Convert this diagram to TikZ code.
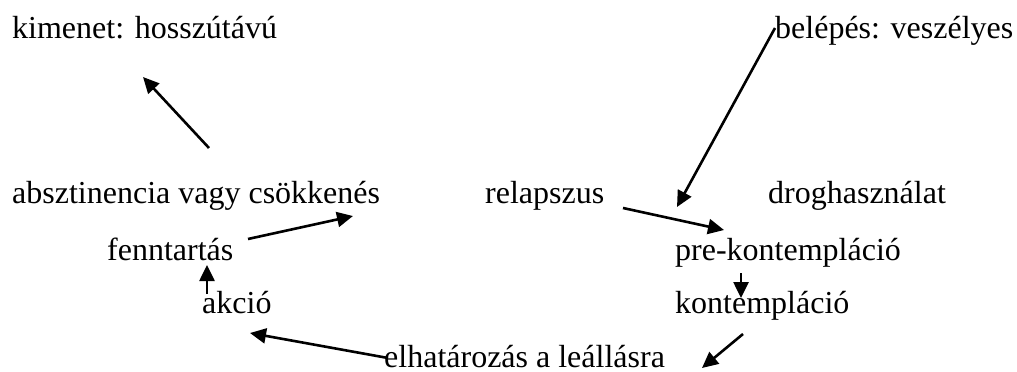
\documentclass[tikz,border=0pt]{standalone}
\usepackage{fontspec}
\setmainfont{Liberation Serif}
\usetikzlibrary{arrows.meta}
\begin{document}
\begin{tikzpicture}[x=1pt,y=-1pt,
  lbl/.style={anchor=base west,inner sep=0pt,font=\fontsize{32}{38}\selectfont},
  arr/.style={line width=2.6pt,-{Triangle[length=16pt,width=15pt]}}]
\useasboundingbox (0,0) rectangle (1017,372);
\node[lbl] (kim) at (12,38) {kimenet: hosszútávú};
\node[lbl] (bel) at (775,38) {belépés: veszélyes};
\node[lbl] (abs) at (12,203) {absztinencia vagy csökkenés};
\node[lbl] (rel) at (485,203) {relapszus};
\node[lbl] (drog) at (768,203) {droghasználat};
\node[lbl] (fenn) at (107,260) {fenntartás};
\node[lbl] (pre) at (675,260) {pre-kontempláció};
\node[lbl] (akc) at (202,313) {akció};
\node[lbl] (kont) at (675,313) {kontempláció};
\node[lbl] (elh) at (384,367) {elhatározás a leállásra};
% arrow end points
\coordinate (a1s) at (209,148); \coordinate (a1e) at (143,77);
\coordinate (a2s) at (775,28);  \coordinate (a2e) at (677,207);
\coordinate (a3s) at (623,208); \coordinate (a3e) at (724,230);
\coordinate (a4s) at (741,273); \coordinate (a4e) at (741,298);
\coordinate (a5s) at (743,334); \coordinate (a5e) at (702,368);
\coordinate (a6s) at (388,358); \coordinate (a6e) at (250,333);
\coordinate (a7s) at (207,294); \coordinate (a7e) at (207,265);
\coordinate (a8s) at (248,239); \coordinate (a8e) at (353,216);
\draw[arr] (a1s) -- (a1e);
\draw[arr] (a2s) -- (a2e);
\draw[arr] (a3s) -- (a3e);
\draw[arr] (a4s) -- (a4e);
\draw[arr] (a5s) -- (a5e);
\draw[arr] (a6s) -- (a6e);
\draw[arr] (a7s) -- (a7e);
\draw[arr] (a8s) -- (a8e);
\end{tikzpicture}
\end{document}
